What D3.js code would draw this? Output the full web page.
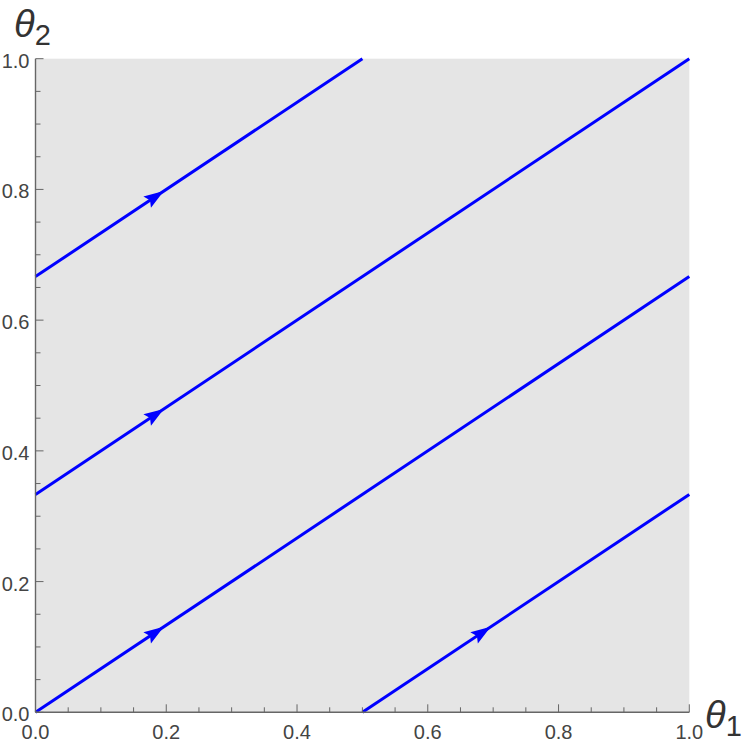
<!DOCTYPE html>
<html>
  <head>
    <meta charset="utf-8" />
    <script src="https://d3js.org/d3.v7.min.js"></script>
    <style>
      body { margin: 0; background: #fff; }
    </style>
  </head>
  <body>
    <div id="chart"></div>
    <script>
      // flow lines on the torus: theta2 = theta2(0) + (2/3) theta1, taken mod 1
      const startTheta1 = [0, 0, 0, 0.5];
      const startTheta2 = [2 / 3, 1 / 3, 0, 0];
      const endTheta1 = [0.5, 1, 1, 1];
      const endTheta2 = [1, 1, 2 / 3, 1 / 3];
      // where the arrow tips sit, along theta1
      const arrowTheta1 = [0.195, 0.195, 0.195, 0.695];

      const majorTicks = [0, 0.2, 0.4, 0.6, 0.8, 1.0];
      const tickLabels = ["0.0", "0.2", "0.4", "0.6", "0.8", "1.0"];
      const minorTicks = d3.range(0, 1.0001, 0.05);

      const width = 750;
      const height = 745;
      const margin = { top: 58.7, right: 60.7, bottom: 32.7, left: 35.5 };

      const svg = d3.select("#chart").append("svg").attr("width", width).attr("height", height);

      const x = d3.scaleLinear().domain([0, 1]).range([margin.left, width - margin.right]);
      const y = d3.scaleLinear().domain([0, 1]).range([height - margin.bottom, margin.top]);

      // gray plot region
      svg
        .append("rect")
        .attr("x", x(0))
        .attr("y", y(1))
        .attr("width", x(1) - x(0))
        .attr("height", y(0) - y(1))
        .attr("fill", "#e5e5e5");

      const lines = startTheta1.map((d, i) => ({
        x0: d,
        y0: startTheta2[i],
        x1: endTheta1[i],
        y1: endTheta2[i],
        a: arrowTheta1[i],
      }));

      svg
        .selectAll(".flow")
        .data(lines)
        .enter()
        .append("line")
        .attr("class", "flow")
        .attr("x1", (d) => x(d.x0))
        .attr("y1", (d) => y(d.y0))
        .attr("x2", (d) => x(d.x1))
        .attr("y2", (d) => y(d.y1))
        .attr("stroke", "#0000ff")
        .attr("stroke-width", 3);

      // arrowheads
      const L = 19, w = 6.8;
      svg
        .selectAll(".arrow")
        .data(lines)
        .enter()
        .append("path")
        .attr("class", "arrow")
        .attr("d", `M1,0 L${-L},${-w} L${-L * 0.82},0 L${-L},${w} Z`)
        .attr("fill", "#0000ff")
        .attr("transform", (d) => {
          const t = (d.a - d.x0) / (d.x1 - d.x0);
          const ay = d.y0 + t * (d.y1 - d.y0);
          const ang = (Math.atan2(y(d.y1) - y(d.y0), x(d.x1) - x(d.x0)) * 180) / Math.PI;
          return `translate(${x(d.a)},${y(ay)}) rotate(${ang})`;
        });

      const axisColor = "#666";
      const textColor = "#444";

      // axes lines
      svg.append("line").attr("x1", x(0)).attr("x2", x(1)).attr("y1", y(0)).attr("y2", y(0))
        .attr("stroke", axisColor).attr("stroke-width", 1.4);
      svg.append("line").attr("x1", x(0)).attr("x2", x(0)).attr("y1", y(0)).attr("y2", y(1))
        .attr("stroke", axisColor).attr("stroke-width", 1.4);

      const isMajor = (v) => majorTicks.some((m) => Math.abs(m - v) < 1e-6);

      // x ticks (pointing into the plot)
      svg.selectAll(".xt").data(minorTicks).enter().append("line")
        .attr("x1", (d) => x(d)).attr("x2", (d) => x(d))
        .attr("y1", y(0)).attr("y2", (d) => y(0) - (isMajor(d) ? 8 : 5))
        .attr("stroke", axisColor).attr("stroke-width", 1);
      // y ticks
      svg.selectAll(".yt").data(minorTicks).enter().append("line")
        .attr("y1", (d) => y(d)).attr("y2", (d) => y(d))
        .attr("x1", x(0)).attr("x2", (d) => x(0) + (isMajor(d) ? 8 : 5))
        .attr("stroke", axisColor).attr("stroke-width", 1);

      const font = "Liberation Sans, Arial, sans-serif";

      svg.selectAll(".xl").data(majorTicks).enter().append("text")
        .attr("x", (d) => x(d)).attr("y", y(0) + 27)
        .attr("text-anchor", "middle")
        .attr("font-family", font).attr("font-size", 20).attr("fill", textColor)
        .text((d, i) => tickLabels[i]);

      svg.selectAll(".yl").data(majorTicks).enter().append("text")
        .attr("x", x(0) - 6).attr("y", (d) => y(d) + 9)
        .attr("text-anchor", "end")
        .attr("font-family", font).attr("font-size", 20).attr("fill", textColor)
        .text((d, i) => tickLabels[i]);

      // axis titles
      function title(tx, ty, sub) {
        const t = svg.append("text").attr("x", tx).attr("y", ty)
          .attr("font-family", font).attr("fill", "#333");
        t.append("tspan").attr("font-style", "italic").attr("font-size", 38).text("θ");
        t.append("tspan").attr("font-size", 29).attr("dy", 8).text(sub);
      }
      title(14, 37, "2");
      title(705, 728, "1");
    </script>
  </body>
</html>
